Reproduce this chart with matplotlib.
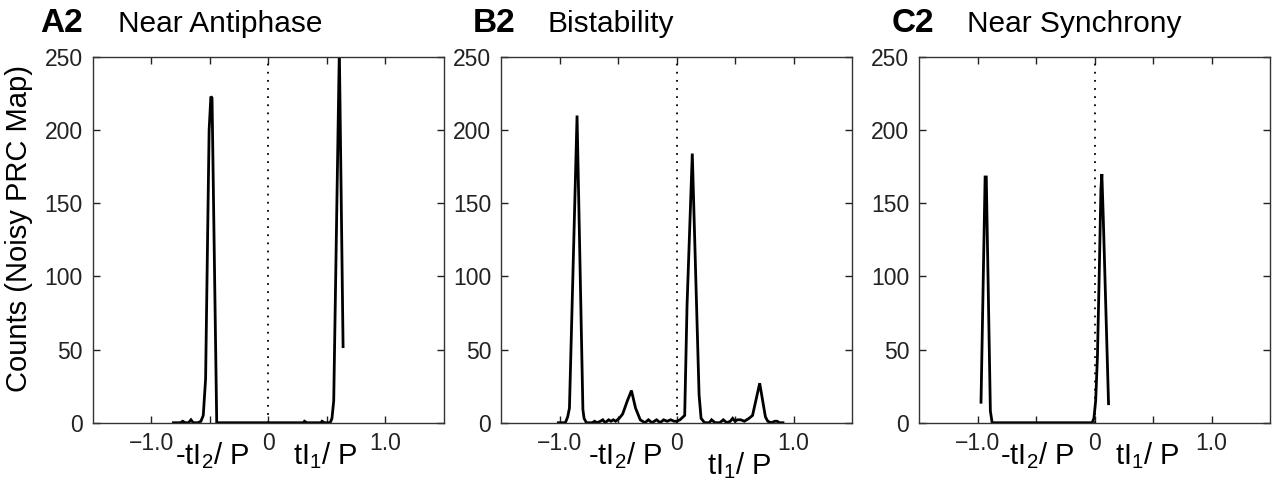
import matplotlib
matplotlib.use('Agg')
import matplotlib.pyplot as plt

plt.rcParams['font.family'] = ['Liberation Sans', 'DejaVu Sans']
plt.rcParams['mathtext.fontset'] = 'custom'
plt.rcParams['mathtext.rm'] = 'Liberation Sans'
plt.rcParams['mathtext.it'] = 'Liberation Sans:italic'

# Panel titles
panel_tags = ['A2', 'B2', 'C2']
panel_names = ['Near Antiphase', 'Bistability', 'Near Synchrony']

# Histogram traces (x = phase / P, y = counts)
a_x = [-0.81, -0.75, -0.73, -0.71, -0.68, -0.66, -0.64, -0.60, -0.575, -0.555,
       -0.535, -0.505, -0.49, -0.48, -0.44, 0.30, 0.31, 0.33, 0.45, 0.46, 0.48,
       0.53, 0.545, 0.56, 0.608, 0.64]
a_y = [0, 0, 1, 0, 0, 2, 0, 0, 1, 5,
       30, 200, 223, 222, 0, 0, 1, 0, 0, 1, 0,
       0, 3, 15, 255, 52]

b_x = [-1.01, -0.95, -0.93, -0.915, -0.85, -0.80, -0.79, -0.77, -0.72, -0.70,
       -0.68, -0.65, -0.63, -0.61, -0.58, -0.56, -0.54, -0.52, -0.49, -0.46,
       -0.42, -0.385, -0.35, -0.31, -0.29, -0.27, -0.24, -0.21, -0.17, -0.14,
       -0.11, -0.08, -0.05, -0.02, 0.0, 0.03, 0.07, 0.09, 0.135, 0.193,
       0.21, 0.24, 0.28, 0.30, 0.33, 0.37, 0.40, 0.43, 0.46, 0.48,
       0.50, 0.52, 0.55, 0.58, 0.62, 0.65, 0.711, 0.76, 0.78, 0.81,
       0.84, 0.86, 0.88, 0.91]
b_y = [0, 0, 4, 10, 210, 9, 3, 0, 0, 1,
       0, 1, 2, 0, 2, 1, 2, 1, 3, 6,
       15, 22, 10, 2, 1, 0, 2, 0, 2, 0,
       2, 1, 2, 1, 1, 2, 5, 80, 184, 19,
       3, 0, 0, 2, 0, 0, 2, 0, 1, 3,
       1, 2, 2, 1, 3, 5, 27, 4, 1, 0,
       1, 1, 0, 0]

c_x = [-0.97, -0.935, -0.925, -0.89, -0.875, -0.02, -0.005, 0.01, 0.025, 0.04,
       0.055, 0.063, 0.075, 0.12]
c_y = [14, 168, 168, 8, 0, 0, 3, 15, 45, 100,
       160, 170, 140, 13]

traces = [(a_x, a_y), (b_x, b_y), (c_x, c_y)]

# x-label anchor positions (data units) for each panel
neg_label_x = [-0.48, -0.44, -0.49]
pos_label_x = [0.485, 0.54, 0.45]

fig = plt.figure(figsize=(12.75, 4.86), dpi=100)
lefts = [92.7 / 1275, 501 / 1275, 919 / 1275]
tag_x = [40, 473, 892]
name_x = [118, 548, 967]

for i in range(3):
    ax = fig.add_axes([lefts[i], 0.1302, 351 / 1275, 0.7525])
    x, y = traces[i]
    ax.plot(x, y, color='black', lw=2.0, solid_joinstyle='miter')
    ax.plot([0, 0], [0, 250], color='black', lw=1.3, linestyle=(0, (1, 3.5)))
    ax.set_xlim(-1.5, 1.5)
    ax.set_ylim(0, 250)
    ax.set_xticks([-1.0, -0.5, 0, 0.5, 1.0])
    ax.set_xticklabels(['\u22121.0', '', '0', '', '1.0'])
    ax.set_yticks([0, 50, 100, 150, 200, 250])
    ax.tick_params(direction='in', top=True, right=True, length=5, width=1,
                   labelsize=16.5, pad=7, colors='#222222')
    for s in ax.spines.values():
        s.set_color('#333333')
        s.set_linewidth(1.0)
    if i == 0:
        ax.set_ylabel('Counts (Noisy PRC Map)', fontsize=21)
        ax.yaxis.set_label_coords(-0.17, 0.53)
    ax.annotate(r'-tI$_\mathregular{2}$/ P', xy=(neg_label_x[i], 0),
                xycoords=('data', 'axes fraction'), xytext=(0, -30),
                textcoords='offset points', ha='center', va='baseline', fontsize=21)
    dy = -37 if i == 1 else -30
    ax.annotate(r'tI$_\mathregular{1}$/ P', xy=(pos_label_x[i], 0),
                xycoords=('data', 'axes fraction'), xytext=(0, dy),
                textcoords='offset points', ha='center', va='baseline', fontsize=21)

    fig.text(tag_x[i] / 1275, 1 - 32 / 486, panel_tags[i], fontsize=24,
             fontweight='bold', va='baseline', ha='left')
    fig.text(name_x[i] / 1275, 1 - 32 / 486, panel_names[i], fontsize=21.5,
             va='baseline', ha='left')

fig.savefig('out.png', dpi=100)
